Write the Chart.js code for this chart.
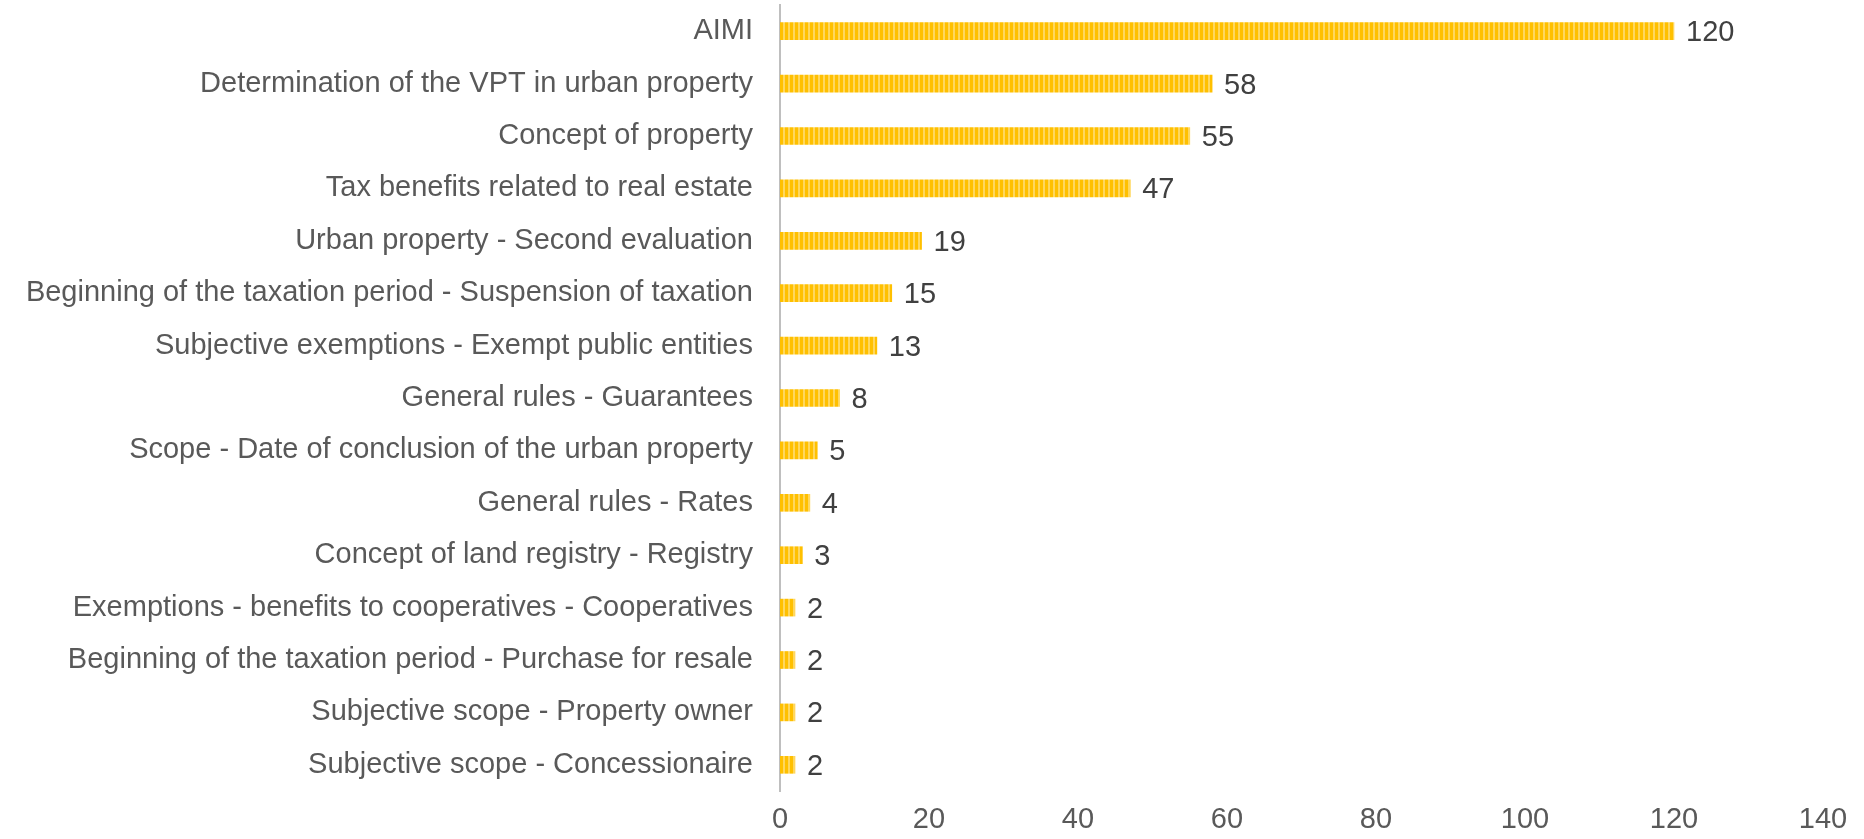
<!DOCTYPE html>
<html>
<head>
<meta charset="utf-8">
<script src="https://cdn.jsdelivr.net/npm/chart.js@4.4.1/dist/chart.umd.min.js"></script>
<style>
  html, body { margin: 0; padding: 0; background: #ffffff; }
  #wrap { width: 1864px; height: 839px; position: relative; }
</style>
</head>
<body>
<div id="wrap"><canvas id="chart"></canvas></div>
<script>
// Topics and number of rulings per topic
const categories = [
  "AIMI",
  "Determination of the VPT in urban property",
  "Concept of property",
  "Tax benefits related to real estate",
  "Urban property - Second evaluation",
  "Beginning of the taxation period - Suspension of taxation",
  "Subjective exemptions - Exempt public entities",
  "General rules - Guarantees",
  "Scope - Date of conclusion of the urban property",
  "General rules - Rates",
  "Concept of land registry - Registry",
  "Exemptions - benefits to cooperatives - Cooperatives",
  "Beginning of the taxation period - Purchase for resale",
  "Subjective scope - Property owner",
  "Subjective scope - Concessionaire"
];
const counts = [120, 58, 55, 47, 19, 15, 13, 8, 5, 4, 3, 2, 2, 2, 2];
const xTicks = [0, 20, 40, 60, 80, 100, 120, 140];

const FONT = "Arial, 'Liberation Sans', sans-serif";
const FONT_SIZE = 29;

// Vertical-striped yellow fill for the bars
function stripeFill() {
  const c = document.createElement('canvas');
  c.width = 5; c.height = 4;
  const g = c.getContext('2d');
  g.fillStyle = '#FFC000';
  g.fillRect(0, 0, 5, 4);
  g.fillStyle = '#FFD75E';
  g.fillRect(3, 0, 2, 4);
  return g.createPattern(c, 'repeat');
}

// Writes each count just past the end of its bar
const valueLabels = {
  id: 'valueLabels',
  afterDatasetsDraw(chart) {
    const ctx = chart.ctx;
    const meta = chart.getDatasetMeta(0);
    ctx.save();
    ctx.font = FONT_SIZE + 'px ' + FONT;
    ctx.fillStyle = '#404040';
    ctx.textAlign = 'left';
    ctx.textBaseline = 'middle';
    meta.data.forEach((bar, i) => {
      ctx.fillText(String(counts[i]), bar.x + 12, bar.y + 2);
    });
    ctx.restore();
  }
};

new Chart(document.getElementById('chart'), {
  type: 'bar',
  data: {
    labels: categories,
    datasets: [{
      data: counts,
      backgroundColor: stripeFill(),
      borderWidth: 0,
      barThickness: 17
    }]
  },
  options: {
    indexAxis: 'y',
    responsive: true,
    maintainAspectRatio: false,
    animation: false,
    layout: { padding: { top: 5, right: 41, left: 0, bottom: 0 } },
    plugins: { legend: { display: false }, tooltip: { enabled: false } },
    scales: {
      x: {
        min: 0, max: 140,
        afterBuildTicks(scale) { scale.ticks = xTicks.map(v => ({ value: v })); },
        grid: { display: false, drawTicks: false },
        border: { display: false },
        ticks: {
          color: '#595959',
          font: { family: FONT, size: FONT_SIZE },
          padding: 12,
          maxRotation: 0
        },
        afterFit(scale) {
          scale.height = 48;
          scale.paddingLeft = 0;
          scale.paddingRight = 0;
        }
      },
      y: {
        grid: { display: false, drawTicks: false },
        border: { display: true, color: '#BFBFBF', width: 2 },
        ticks: {
          color: '#595959',
          font: { family: FONT, size: FONT_SIZE },
          padding: 27,
          autoSkip: false
        },
        afterFit(scale) {
          scale.width = 780;
          scale.paddingTop = 0;
          scale.paddingBottom = 0;
        }
      }
    }
  },
  plugins: [valueLabels]
});
</script>
</body>
</html>
